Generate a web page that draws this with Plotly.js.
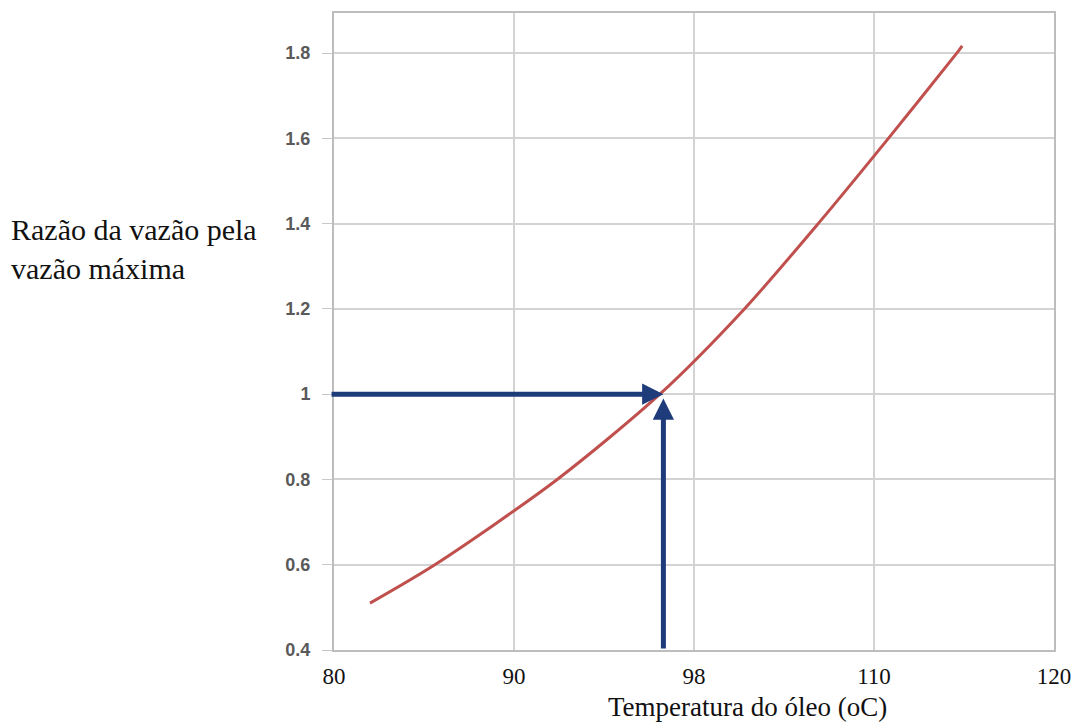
<!DOCTYPE html>
<html>
<head>
<meta charset="utf-8">
<script src="https://cdn.plot.ly/plotly-3.0.1.min.js"></script>
<style>html,body{margin:0;padding:0;background:#fff;}#chart{width:1074px;height:724px;}</style>
</head>
<body>
<div id="chart"></div>
<script>
// Curve: ratio of flow to maximum flow vs oil temperature
var temperature = [82.0, 85.6, 92.4, 98.1, 102.8, 106.9, 110.8, 114.6, 114.9];
var flowRatio   = [0.51, 0.60, 0.80, 1.00, 1.20, 1.40, 1.60, 1.80, 1.817];

// Tick positions and labels as printed on the picture
var xTickVals = [80, 90, 100, 110, 120];
var xTickText = ["80", "90", "98", "110", "120"];
var yTickVals = [0.4, 0.6, 0.8, 1.0, 1.2, 1.4, 1.6, 1.8];
var yTickText = ["0.4", "0.6", "0.8", "1", "1.2", "1.4", "1.6", "1.8"];

// Reading arrows
var readTemp = [98.3];
var readRatio = [1.0];
var arrowStartTemp = [79.78];
var arrowStartRatio = [0.4];

var trace = {
  x: temperature,
  y: flowRatio,
  type: 'scatter',
  mode: 'lines',
  line: {color: '#c0504d', width: 3, shape: 'spline', smoothing: 0.8},
  hoverinfo: 'x+y',
  showlegend: false
};

var serif = 'Liberation Serif, Times New Roman, serif';

var layout = {
  width: 1074,
  height: 724,
  margin: {l: 334, r: 20, t: 13, b: 74},
  paper_bgcolor: '#ffffff',
  plot_bgcolor: '#ffffff',
  showlegend: false,
  xaxis: {
    range: [80, 120],
    tickmode: 'array',
    tickvals: xTickVals,
    ticktext: xTickText,
    showgrid: true,
    gridcolor: '#d3d3d3',
    gridwidth: 2,
    showline: true,
    linecolor: '#bdbdbd',
    linewidth: 2,
    mirror: true,
    ticks: '',
    ticklabelstandoff: 4,
    zeroline: false,
    tickfont: {family: serif, size: 23, color: '#111111'},
    fixedrange: true
  },
  yaxis: {
    range: [0.4, 1.894],
    tickmode: 'array',
    tickvals: yTickVals,
    ticktext: yTickText,
    showgrid: true,
    gridcolor: '#d3d3d3',
    gridwidth: 2,
    showline: true,
    linecolor: '#bdbdbd',
    linewidth: 2,
    mirror: true,
    ticks: 'outside',
    ticklen: 10,
    tickwidth: 1,
    tickcolor: '#c8c8c8',
    ticklabelstandoff: 8,
    zeroline: false,
    tickfont: {family: 'Liberation Sans, Arial, sans-serif', size: 18, color: '#5a5a5a', weight: 'bold'},
    fixedrange: true
  },
  annotations: [
    {
      x: readTemp[0], y: readRatio[0], xref: 'x', yref: 'y',
      ax: arrowStartTemp[0], ay: readRatio[0], axref: 'x', ayref: 'y',
      showarrow: true, arrowhead: 2, arrowsize: 0.85, arrowwidth: 5,
      arrowcolor: '#1f3c7a', text: '', standoff: 0
    },
    {
      x: readTemp[0], y: readRatio[0] - 0.01, xref: 'x', yref: 'y',
      ax: readTemp[0], ay: arrowStartRatio[0], axref: 'x', ayref: 'y',
      showarrow: true, arrowhead: 2, arrowsize: 0.85, arrowwidth: 5,
      arrowcolor: '#1f3c7a', text: '', standoff: 0
    },
    {
      text: 'Razão da vazão pela<br>vazão máxima',
      xref: 'paper', yref: 'paper',
      x: -0.451, y: 0.630, xanchor: 'left', yanchor: 'middle', align: 'left',
      showarrow: false,
      font: {family: serif, size: 30, color: '#111111'}
    },
    {
      text: 'Temperatura do óleo (oC)',
      xref: 'paper', yref: 'paper',
      x: 0.574, y: -0.0895, xanchor: 'center', yanchor: 'middle',
      showarrow: false,
      font: {family: serif, size: 27, color: '#111111'}
    }
  ]
};

Plotly.newPlot('chart', [trace], layout, {displayModeBar: false, staticPlot: true});
</script>
</body>
</html>
